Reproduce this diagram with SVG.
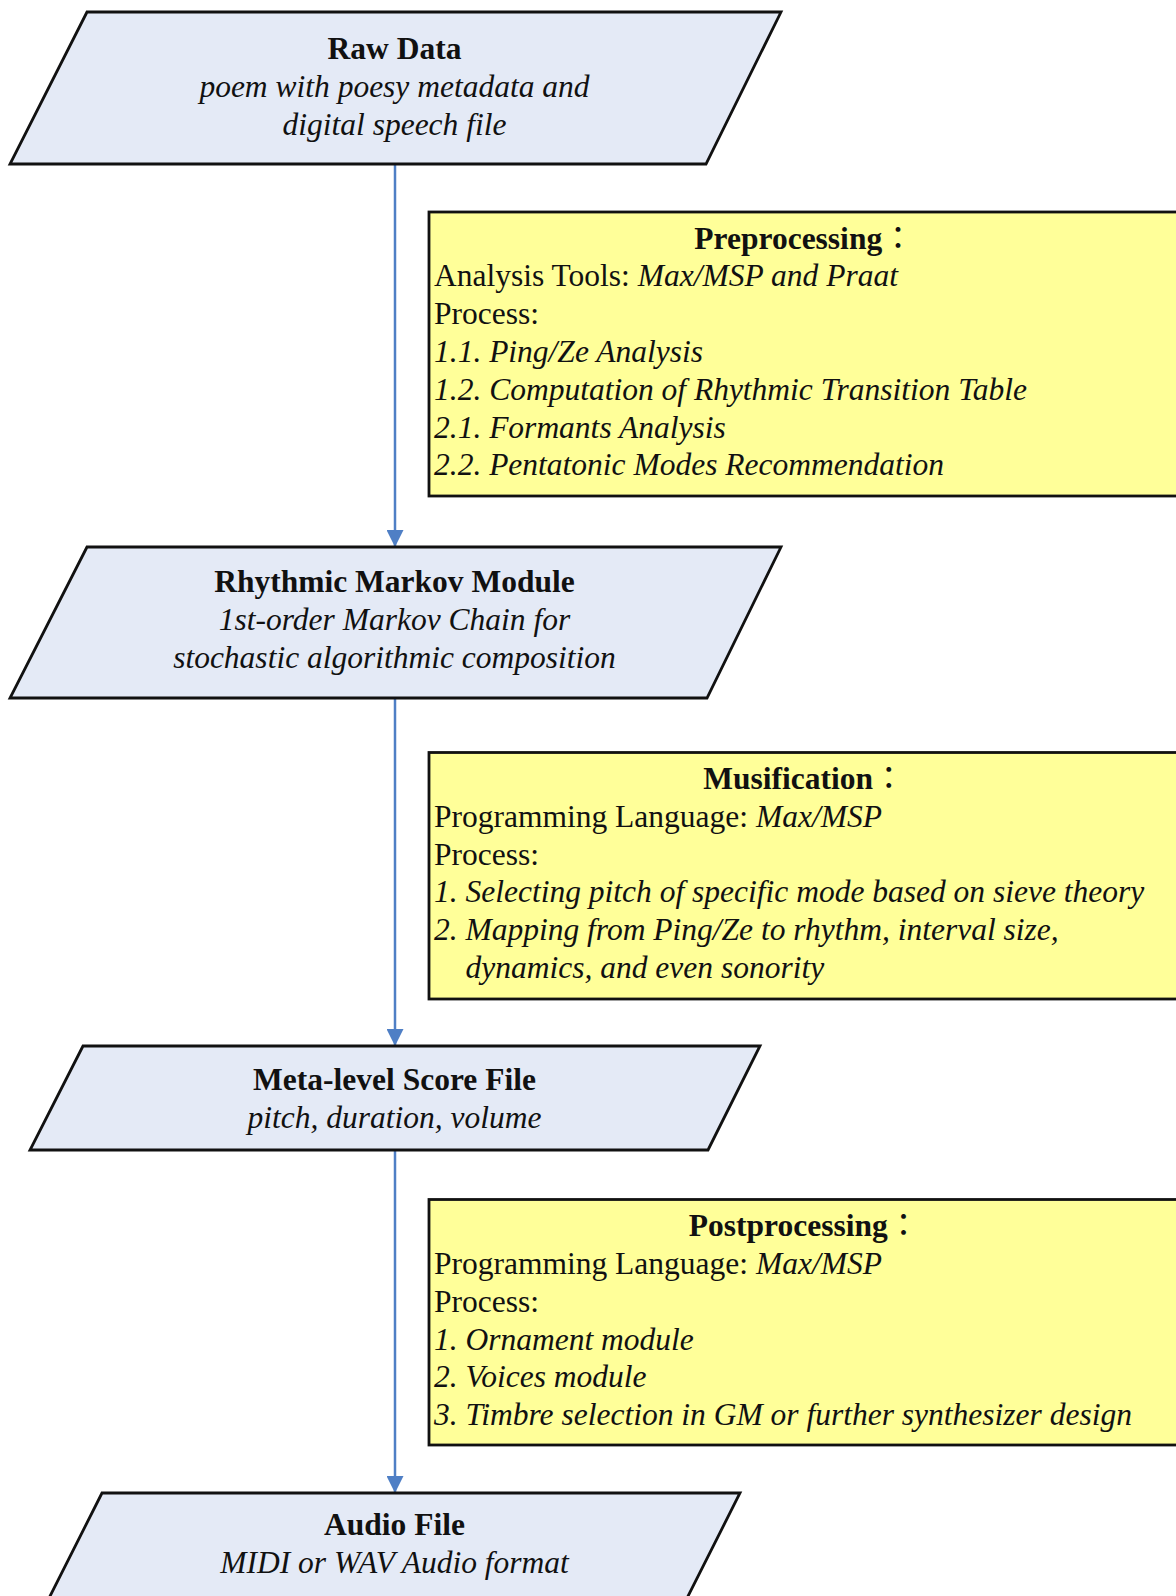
<svg xmlns="http://www.w3.org/2000/svg" width="1176" height="1596" viewBox="0 0 1176 1596">
  <defs>
    <marker id="arrow" markerWidth="17" markerHeight="17" refX="17" refY="8.5" orient="auto" markerUnits="userSpaceOnUse">
      <path d="M0,0 L17,8.5 L0,17 z" fill="#4f7fc5"/>
    </marker>
    <style>
      .data { fill: #e4eaf6; stroke: #111; stroke-width: 2.8; stroke-linejoin: miter; }
      .step { fill: #ffff99; stroke: #111; stroke-width: 2.8; }
      .conn { stroke: #4f7fc5; stroke-width: 2.5; fill: none; marker-end: url(#arrow); }
      text { font-family: "Liberation Serif", "Noto Sans CJK TC", serif; font-size: 31.5px; fill: #111; }
      .title { font-weight: bold; text-anchor: middle; }
      .sub { font-style: italic; text-anchor: middle; }
      .it { font-style: italic; }
      .colon { font-weight: normal; }
    </style>
  </defs>

  <!-- flow connectors -->
  <g id="connectors">
    <line class="conn" x1="395" y1="164" x2="395" y2="547"/>
    <line class="conn" x1="395" y1="698" x2="395" y2="1046"/>
    <line class="conn" x1="395" y1="1150" x2="395" y2="1493"/>
  </g>

  <!-- data nodes (parallelograms) -->
  <g id="raw-data">
    <polygon class="data" points="87,12 781,12 706,164 10,164"/>
    <text class="title" x="394.5" y="59">Raw Data</text>
    <text class="sub" x="394.5" y="97">poem with poesy metadata and</text>
    <text class="sub" x="394.5" y="135">digital speech file</text>
  </g>

  <g id="rhythmic-markov-module">
    <polygon class="data" points="87,547 781,547 707,698 10,698"/>
    <text class="title" x="394.5" y="592">Rhythmic Markov Module</text>
    <text class="sub" x="394.5" y="630">1st-order Markov Chain for</text>
    <text class="sub" x="394.5" y="668">stochastic algorithmic composition</text>
  </g>

  <g id="meta-level-score-file">
    <polygon class="data" points="83,1046 760,1046 708,1150 30,1150"/>
    <text class="title" x="394.5" y="1090">Meta-level Score File</text>
    <text class="sub" x="394.5" y="1128">pitch, duration, volume</text>
  </g>

  <g id="audio-file">
    <polygon class="data" points="102,1493 740,1493 676,1620 38,1620"/>
    <text class="title" x="394.5" y="1535">Audio File</text>
    <text class="sub" x="394.5" y="1573">MIDI or WAV Audio format</text>
  </g>

  <!-- process description boxes -->
  <g id="preprocessing">
    <rect class="step" x="429" y="212" width="756" height="284"/>
    <text class="title" x="804" y="248.5">Preprocessing<tspan class="colon">：</tspan></text>
    <text x="434" y="286.3">Analysis Tools: <tspan class="it">Max/MSP and Praat</tspan></text>
    <text x="434" y="324.1">Process:</text>
    <text class="it" x="434" y="361.9">1.1. Ping/Ze Analysis</text>
    <text class="it" x="434" y="399.7">1.2. Computation of Rhythmic Transition Table</text>
    <text class="it" x="434" y="437.5">2.1. Formants Analysis</text>
    <text class="it" x="434" y="475.3">2.2. Pentatonic Modes Recommendation</text>
  </g>

  <g id="musification">
    <rect class="step" x="429" y="752.5" width="756" height="246.5"/>
    <text class="title" x="804" y="789">Musification<tspan class="colon">：</tspan></text>
    <text x="434" y="826.8">Programming Language: <tspan class="it">Max/MSP</tspan></text>
    <text x="434" y="864.6">Process:</text>
    <text class="it" x="434" y="902.4">1. Selecting pitch of specific mode based on sieve theory</text>
    <text class="it" x="434" y="940.2">2. Mapping from Ping/Ze to rhythm, interval size,</text>
    <text class="it" x="465.5" y="978">dynamics, and even sonority</text>
  </g>

  <g id="postprocessing">
    <rect class="step" x="429" y="1199.5" width="756" height="245.5"/>
    <text class="title" x="804" y="1236">Postprocessing<tspan class="colon">：</tspan></text>
    <text x="434" y="1274">Programming Language: <tspan class="it">Max/MSP</tspan></text>
    <text x="434" y="1311.7">Process:</text>
    <text class="it" x="434" y="1349.5">1. Ornament module</text>
    <text class="it" x="434" y="1387.3">2. Voices module</text>
    <text class="it" x="434" y="1425.1">3. Timbre selection in GM or further synthesizer design</text>
  </g>
</svg>
